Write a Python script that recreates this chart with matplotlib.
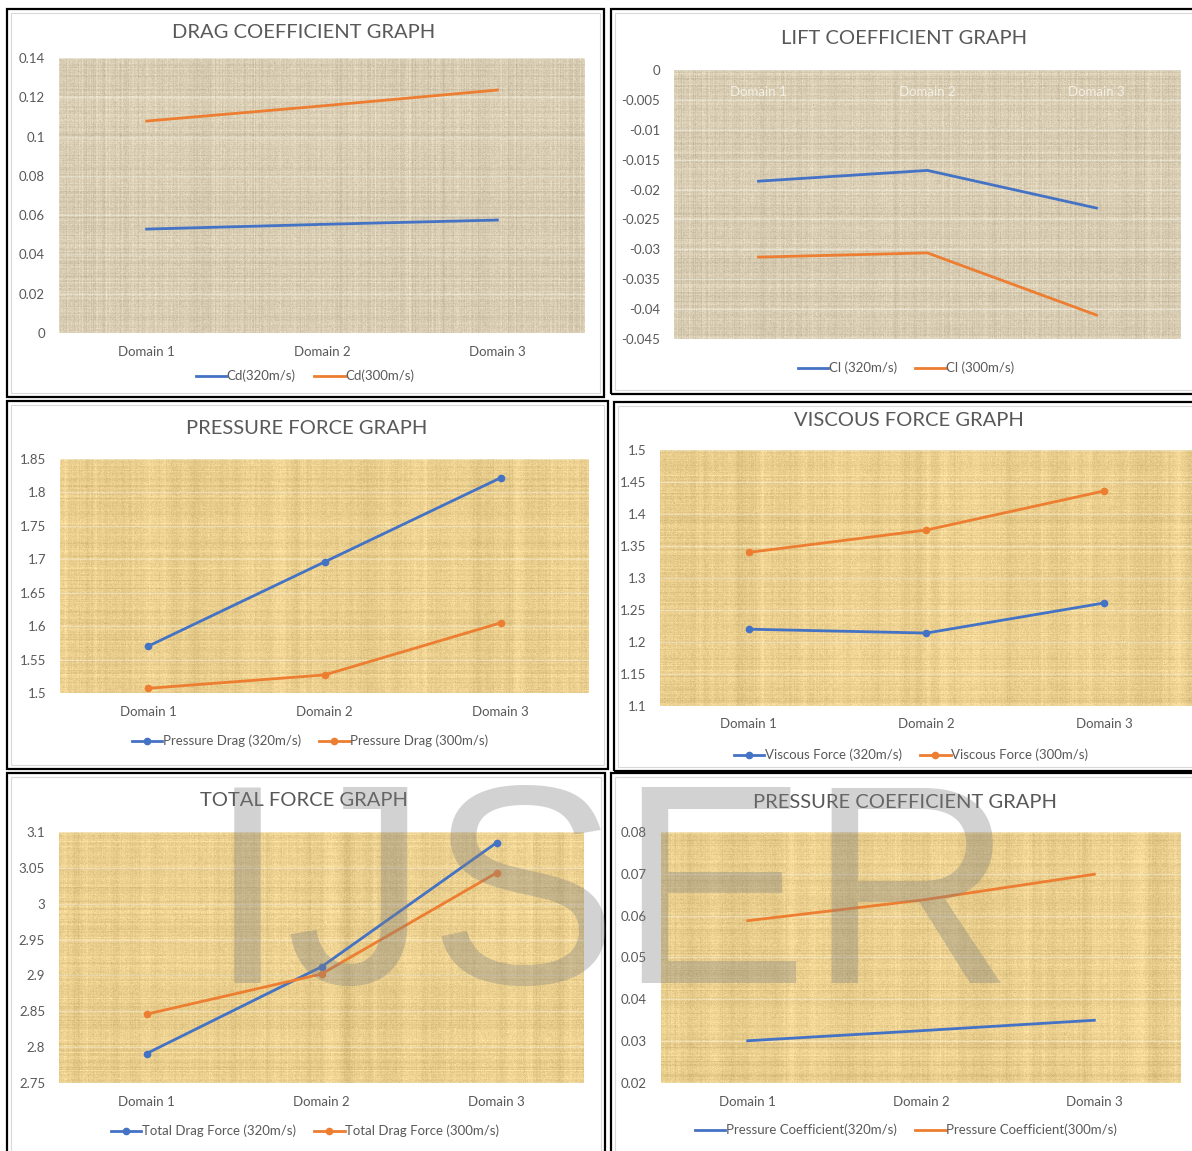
import matplotlib
matplotlib.use("Agg")
import matplotlib.pyplot as plt
from matplotlib.patches import Rectangle
from matplotlib.colors import to_rgb
import numpy as np

plt.rcParams['font.family'] = ['Lato', 'DejaVu Sans']

W, H = 1192, 1151

categories = ['Domain 1', 'Domain 2', 'Domain 3']

# drag / lift coefficients
cd_320 = [0.0529, 0.0553, 0.0575]
cd_300 = [0.1079, 0.1156, 0.1237]
cl_320 = [-0.0186, -0.0168, -0.0231]
cl_300 = [-0.0313, -0.0306, -0.0410]

# forces
pd_320 = [1.570, 1.696, 1.822]
pd_300 = [1.507, 1.527, 1.605]
vf_320 = [1.220, 1.214, 1.261]
vf_300 = [1.340, 1.375, 1.436]
tf_320 = [2.791, 2.912, 3.085]
tf_300 = [2.846, 2.902, 3.043]

# pressure coefficient
cp_320 = [0.0301, 0.0325, 0.0350]
cp_300 = [0.0588, 0.0637, 0.0699]

BLUE = '#4472c4'
ORANGE = '#ed7d31'
GREY = '#595959'
LINEN = '#d9ceb4'
PAPYRUS = '#eacf8e'

rng = np.random.RandomState(7)

fig = plt.figure(figsize=(W / 100, H / 100), dpi=100)
fig.patch.set_facecolor('white')


def frame(x0, y0, x1, y1):
    # black outer border plus light inner chart border
    fig.patches.append(Rectangle((x0 / W, 1 - y1 / H), (x1 - x0) / W, (y1 - y0) / H,
                                 transform=fig.transFigure, fill=False,
                                 edgecolor='black', linewidth=1.6, zorder=5))
    fig.patches.append(Rectangle(((x0 + 4) / W, 1 - (y1 - 4) / H), (x1 - x0 - 8) / W,
                                 (y1 - y0 - 8) / H, transform=fig.transFigure,
                                 fill=False, edgecolor='#d9d9d9', linewidth=0.8, zorder=5))


def texture(w, h, base, band):
    # woven fill: per-column and per-row streaks plus fine grain
    col = rng.normal(0, 1, w)
    row = rng.normal(0, 1, h)
    if band:
        k = np.ones(9) / 9
        col = np.convolve(col, k, mode='same') * 2.2 + rng.normal(0, 0.5, w)
    img = (np.array(to_rgb(base)) * 255)[None, None, :] \
        + 5 * col[None, :, None] + 5 * row[:, None, None] \
        + rng.normal(0, 5, (h, w, 1))
    return np.clip(img, 0, 255).astype(np.uint8)


def panel(box, title, title_xy, y1, y2, labels, ylim, step, bg, legend_xy,
          markers=False, xlabel_top=False):
    x0, top, x1, bottom = box
    ax = fig.add_axes([x0 / W, 1 - bottom / H, (x1 - x0) / W, (bottom - top) / H])
    ax.imshow(texture(x1 - x0, bottom - top, bg, bg == PAPYRUS),
              extent=(-0.5, 2.5, ylim[0], ylim[1]), aspect='auto',
              interpolation='nearest', zorder=0)
    x = np.arange(len(categories))
    mk = dict(marker='o', markersize=4.5) if markers else {}
    ax.plot(x, y1, color=BLUE, linewidth=2.0, label=labels[0], zorder=3, **mk)
    ax.plot(x, y2, color=ORANGE, linewidth=2.0, label=labels[1], zorder=3, **mk)
    ax.set_xlim(-0.5, 2.5)
    ax.set_ylim(*ylim)
    ticks = np.arange(ylim[0], ylim[1] + step / 2, step)
    ax.set_yticks(ticks)
    ax.set_yticklabels(['{:g}'.format(round(t, 6) + 0.0) for t in ticks])
    ax.set_xticks(x)
    ax.set_xticklabels(categories)
    ax.yaxis.grid(True, color='white', alpha=0.35, linewidth=1.0, zorder=1)
    for s in ax.spines.values():
        s.set_visible(False)
    ax.tick_params(axis='both', length=0, labelsize=9.5, labelcolor=GREY)
    ax.tick_params(axis='y', pad=10)
    ax.tick_params(axis='x', pad=9)
    if xlabel_top:
        ax.tick_params(axis='x', labelbottom=False, labeltop=True, pad=-20,
                       labelcolor='#f4efe4')
    fig.text(title_xy[0] / W, 1 - title_xy[1] / H, title, ha='center', va='center',
             fontsize=14.5, color=GREY)
    ax.legend(loc='center', bbox_to_anchor=(legend_xy[0] / W, 1 - legend_xy[1] / H),
              bbox_transform=fig.transFigure, ncol=2, frameon=False, fontsize=9.5,
              labelcolor=GREY, handlelength=2.3, handletextpad=0.05, columnspacing=1.4)
    return ax


frame(7, 9, 604, 397)
frame(611, 9, 1200, 394)
frame(7, 401, 608, 769)
frame(614, 402, 1200, 771)
frame(7, 773, 605, 1160)
frame(611, 773, 1200, 1160)

panel((59, 58, 585, 333), 'DRAG COEFFICIENT GRAPH', (304, 32), cd_320, cd_300,
      ['Cd(320m/s)', 'Cd(300m/s)'], (0, 0.14), 0.02, LINEN, (305, 376))
panel((674, 70, 1181, 339), 'LIFT COEFFICIENT GRAPH', (904, 38), cl_320, cl_300,
      ['Cl (320m/s)', 'Cl (300m/s)'], (-0.045, 0), 0.005, LINEN, (906, 368),
      xlabel_top=True)
panel((60, 459, 589, 693), 'PRESSURE FORCE GRAPH', (307, 428), pd_320, pd_300,
      ['Pressure Drag (320m/s)', 'Pressure Drag (300m/s)'], (1.5, 1.85), 0.05,
      PAPYRUS, (310, 741), markers=True)
panel((660, 450, 1193, 706), 'VISCOUS FORCE GRAPH', (909, 420), vf_320, vf_300,
      ['Viscous Force (320m/s)', 'Viscous Force (300m/s)'], (1.1, 1.5), 0.05,
      PAPYRUS, (911, 755), markers=True)
panel((59, 832, 584, 1083), 'TOTAL FORCE GRAPH', (304, 800), tf_320, tf_300,
      ['Total Drag Force (320m/s)', 'Total Drag Force (300m/s)'], (2.75, 3.1), 0.05,
      PAPYRUS, (305, 1131), markers=True)
panel((661, 832, 1181, 1083), 'PRESSURE COEFFICIENT GRAPH', (905, 802), cp_320, cp_300,
      ['Pressure Coefficient(320m/s)', 'Pressure Coefficient(300m/s)'], (0.02, 0.08),
      0.01, PAPYRUS, (906, 1130))

# journal watermark across the lower row
fig.text(208 / W, 1 - 983 / H, 'IJSER', ha='left', va='baseline', fontsize=205,
         family='Liberation Sans', color='#808080', alpha=0.35, zorder=10)

fig.savefig('out.png', dpi=100)
